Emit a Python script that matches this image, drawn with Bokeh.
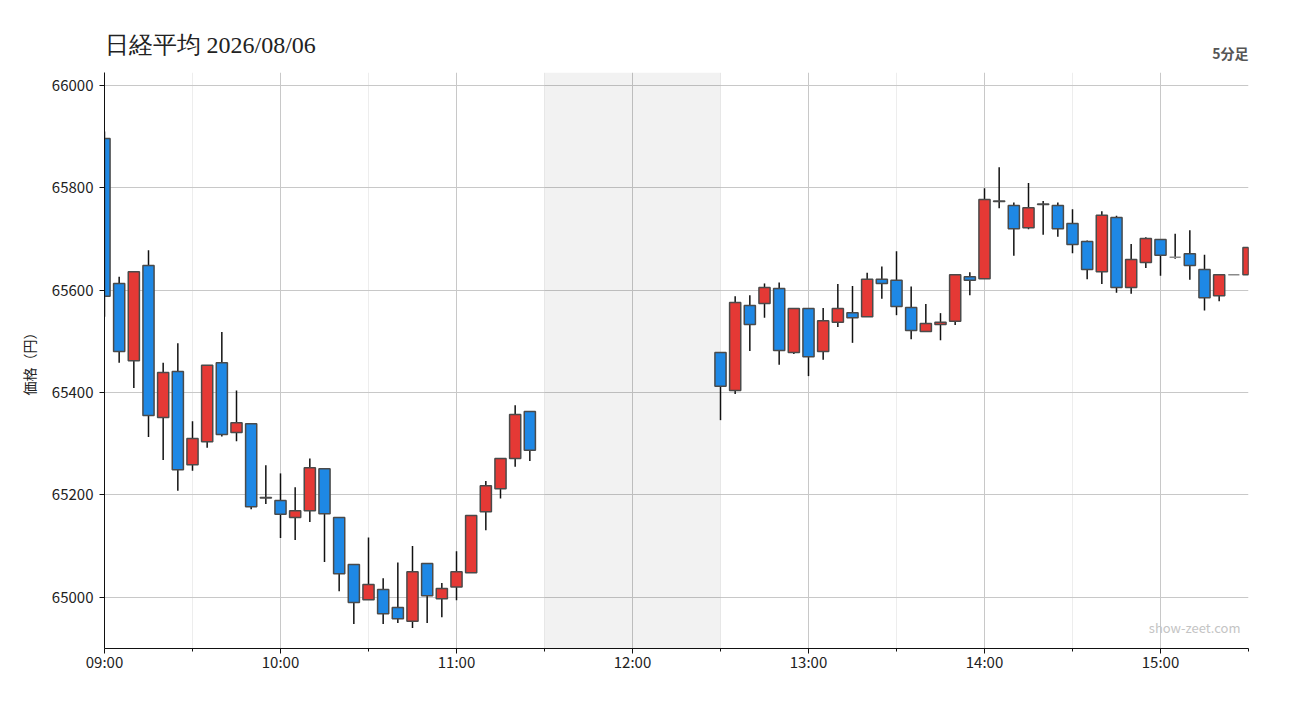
import pandas as pd

from bokeh.embed import file_html
from bokeh.models import (BoxAnnotation, ColumnDataSource, DatetimeTickFormatter,
                          FixedTicker, Label, Title)
from bokeh.plotting import figure
from bokeh.resources import INLINE

DAY = "2026-08-06"
TITLE = "日経平均 2026/08/06"

# 5-minute bars (morning session, then afternoon session)
times = ["09:00", "09:05", "09:10", "09:15", "09:20", "09:25", "09:30", "09:35",
         "09:40", "09:45", "09:50", "09:55", "10:00", "10:05", "10:10", "10:15",
         "10:20", "10:25", "10:30", "10:35", "10:40", "10:45", "10:50", "10:55",
         "11:00", "11:05", "11:10", "11:15", "11:20", "11:25",
         "12:30", "12:35", "12:40", "12:45", "12:50", "12:55", "13:00", "13:05",
         "13:10", "13:15", "13:20", "13:25", "13:30", "13:35", "13:40", "13:45",
         "13:50", "13:55", "14:00", "14:05", "14:10", "14:15", "14:20", "14:25",
         "14:30", "14:35", "14:40", "14:45", "14:50", "14:55", "15:00", "15:05",
         "15:10", "15:15", "15:20", "15:25", "15:30"]
opens = [65896, 65613, 65462, 65648, 65351, 65441, 65259, 65304,
         65458, 65322, 65339, 65195, 65189, 65156, 65169, 65251,
         65156, 65064, 64995, 65015, 64980, 64953, 65066, 64997,
         65020, 65048, 65167, 65212, 65271, 65363,
         65478, 65404, 65570, 65574, 65603, 65478, 65564, 65480,
         65537, 65556, 65548, 65621, 65619, 65566, 65519, 65533,
         65539, 65626, 65622, 65773, 65765, 65722, 65767, 65765,
         65730, 65695, 65636, 65742, 65605, 65654, 65699, 65664,
         65671, 65640, 65589, 65630, 65630]
highs = [65910, 65626, 65637, 65678, 65458, 65496, 65344, 65453,
         65518, 65404, 65340, 65258, 65242, 65215, 65271, 65252,
         65156, 65064, 65117, 65037, 65068, 65100, 65066, 65028,
         65090, 65160, 65227, 65272, 65375, 65363,
         65479, 65588, 65590, 65613, 65615, 65564, 65564, 65565,
         65612, 65608, 65634, 65646, 65676, 65607, 65573, 65555,
         65631, 65635, 65799, 65840, 65771, 65809, 65774, 65771,
         65758, 65697, 65754, 65745, 65690, 65703, 65699, 65710,
         65717, 65669, 65630, 65630, 65683]
lows = [65548, 65458, 65409, 65313, 65268, 65208, 65247, 65292,
        65314, 65305, 65172, 65182, 65116, 65112, 65147, 65069,
        65012, 64948, 64995, 64948, 64950, 64940, 64950, 64961,
        64994, 65048, 65131, 65193, 65255, 65266,
        65346, 65397, 65481, 65546, 65454, 65475, 65432, 65464,
        65528, 65497, 65548, 65583, 65551, 65504, 65519, 65502,
        65532, 65590, 65622, 65760, 65667, 65719, 65708, 65704,
        65672, 65621, 65612, 65595, 65593, 65643, 65628, 65661,
        65620, 65560, 65578, 65630, 65630]
closes = [65588, 65480, 65636, 65355, 65439, 65249, 65310, 65453,
          65318, 65341, 65177, 65194, 65162, 65169, 65253, 65163,
          65046, 64990, 65025, 64968, 64958, 65050, 65003, 65017,
          65050, 65160, 65218, 65271, 65357, 65287,
          65412, 65576, 65533, 65605, 65482, 65564, 65470, 65540,
          65564, 65546, 65621, 65613, 65568, 65521, 65535, 65537,
          65630, 65619, 65777, 65774, 65720, 65761, 65768, 65720,
          65689, 65640, 65746, 65605, 65660, 65701, 65668, 65664,
          65648, 65585, 65630, 65630, 65683]

y_ticks = [65000, 65200, 65400, 65600, 65800, 66000]
hour_ticks = ["09:00", "10:00", "11:00", "12:00", "13:00", "14:00", "15:00"]
half_ticks = ["09:30", "10:30", "11:30", "12:30", "13:30", "14:30", "15:30"]
lunch = ("11:30", "12:30")

UP = "#e53935"
DOWN = "#1e88e5"


def ms(hm):
    return pd.Timestamp(f"{DAY} {hm}").value // 10**6


xs = [ms(t) for t in times]
fills, edges = [], []
for o, c in zip(opens, closes):
    if c > o:
        fills.append(UP)
        edges.append("#4a4a4a")
    elif c < o:
        fills.append(DOWN)
        edges.append("#4a4a4a")
    else:
        fills.append("#888888")
        edges.append("#8a8a8a")

src = ColumnDataSource(dict(
    x=xs, high=highs, low=lows,
    top=[max(o, c) for o, c in zip(opens, closes)],
    bottom=[min(o, c) for o, c in zip(opens, closes)],
    fill=fills, edge=edges,
))

JP = "'Noto Sans CJK JP'"

p = figure(
    width=1284,
    height=704,
    x_range=(ms("09:00"), ms("15:30")),
    y_range=(64900, 66025),
    x_axis_type="datetime",
    y_axis_label="価格（円）",
    title=TITLE,
    toolbar_location=None,
    tools="",
    output_backend="svg")
p.min_border_left = 104
p.min_border_right = 36
p.min_border_top = 72
p.min_border_bottom = 56
p.outline_line_color = None
p.background_fill_color = "white"
p.border_fill_color = "white"

# main title sits outside the "5分足" title; negative standoff pulls it down level with it
p.title.align = "left"
p.title.offset = 0
p.title.standoff = -53
p.title.text_font = "Liberation Serif"
p.title.text_font_size = "24px"
p.title.text_font_style = "normal"
p.title.text_color = "#222222"

p.add_layout(Title(text="5分足", align="right", standoff=19,
                   text_font=JP, text_font_size="14px", text_font_style="bold",
                   text_color="#555555"), "above")

p.add_layout(BoxAnnotation(left=ms(lunch[0]), right=ms(lunch[1]),
                           fill_color="#000000", fill_alpha=0.05,
                           line_color=None, level="underlay"))

p.segment("x", "high", "x", "low", source=src, line_color="#111111", line_width=1.5)
p.vbar(x="x", width=3.8 * 60000, top="top", bottom="bottom", source=src,
       fill_color="fill", line_color="edge", line_width=1.5)

p.xaxis.ticker = FixedTicker(ticks=[ms(t) for t in hour_ticks],
                             minor_ticks=[ms(t) for t in half_ticks])
p.xaxis.formatter = DatetimeTickFormatter(hours="%H:%M", hourmin="%H:%M",
                                          minutes="%H:%M", days="%H:%M")
p.yaxis.ticker = FixedTicker(ticks=y_ticks, minor_ticks=[])

for ax in (p.xaxis[0], p.yaxis[0]):
    ax.axis_line_color = "#111111"
    ax.major_tick_line_color = "#111111"
    ax.minor_tick_line_color = "#111111"
    ax.major_tick_in = 0
    ax.major_tick_out = 5
    ax.minor_tick_in = 0
    ax.major_label_text_font = JP
    ax.major_label_text_font_size = "15px"
    ax.major_label_text_color = "#222222"
p.xaxis.minor_tick_out = 3
p.yaxis.minor_tick_out = 0
p.xaxis.major_label_standoff = -3
p.yaxis.major_label_standoff = 6
p.yaxis.axis_label_text_font = JP
p.yaxis.axis_label_text_font_style = "normal"
p.yaxis.axis_label_text_font_size = "14px"
p.yaxis.axis_label_text_color = "#222222"
p.yaxis.axis_label_standoff = 10

p.xgrid.grid_line_color = "#c8c8c8"
p.xgrid.minor_grid_line_color = "#ededed"
p.ygrid.grid_line_color = "#c8c8c8"

p.add_layout(Label(x=1136, y=21, x_units="screen", y_units="screen",
                   text="show-zeet.com", text_font=JP, text_font_size="13px",
                   text_color="#c4c4c4", text_align="right", text_baseline="middle"))

open("out.html", "w").write(file_html(p, INLINE))
